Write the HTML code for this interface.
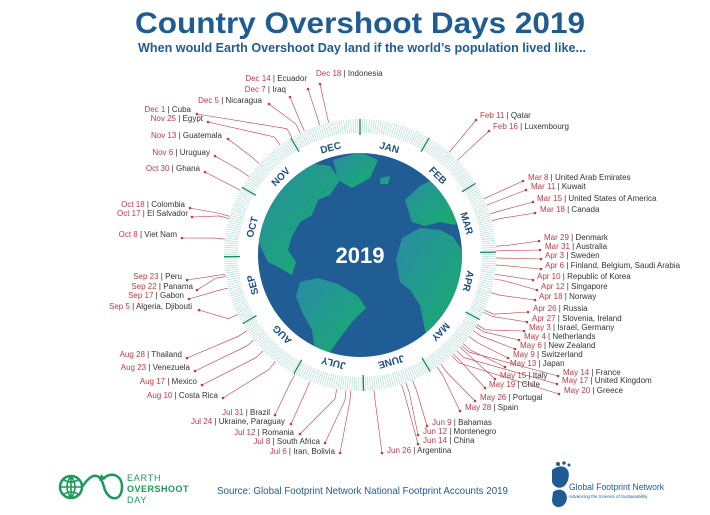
<!DOCTYPE html>
<html><head><meta charset="utf-8">
<style>
html,body{margin:0;padding:0;background:#fff;width:710px;height:515px;overflow:hidden}
svg{display:block}
text{font-family:"Liberation Sans",sans-serif}
</style></head>
<body>
<svg id="s" width="710" height="515" viewBox="0 0 710 515" xmlns="http://www.w3.org/2000/svg">
<defs>
<linearGradient id="land" x1="0" y1="0" x2="1" y2="1">
<stop offset="0" stop-color="#2a8aa6"/><stop offset="1" stop-color="#16b068"/>
</linearGradient>
<clipPath id="gc"><circle cx="360" cy="255" r="102"/></clipPath>
</defs>
<text x="360" y="33" text-anchor="middle" font-size="30" font-weight="bold" fill="#1f5c94" textLength="450" lengthAdjust="spacingAndGlyphs">Country Overshoot Days 2019</text>
<text x="362" y="52" text-anchor="middle" font-size="12.5" font-weight="bold" fill="#1f5c94" textLength="448" lengthAdjust="spacingAndGlyphs">When would Earth Overshoot Day land if the world’s population lived like...</text>
<g id="ring"></g>
<circle cx="360" cy="255" r="102" fill="#205d95"/>
<g clip-path="url(#gc)" fill="url(#land)">
<path d="M250,190 L275,168 L300,162 L330,166 L340,180 L330,195 L318,200 L312,215 L300,222 L292,236 L288,250 L296,262 L292,275 L280,268 L268,262 L262,250 L255,232 L250,215 Z"/>
<path d="M333,160 L360,152 L378,160 L370,178 L352,188 L338,180 Z"/>
<path d="M300,282 L318,278 L338,284 L358,296 L366,308 L352,322 L340,338 L330,352 L322,362 L315,350 L312,330 L302,312 L296,296 Z"/>
<path d="M402,238 L420,228 L440,230 L452,236 L462,250 L462,300 L455,320 L440,345 L430,348 L425,330 L420,305 L410,290 L400,282 L396,260 Z"/>
<path d="M405,200 L420,186 L440,176 L458,180 L462,210 L455,225 L440,222 L425,226 L412,222 Z"/>
<path d="M380,178 L390,176 L388,184 L380,184 Z"/>
</g>
<text x="360" y="263" text-anchor="middle" font-size="22" font-weight="bold" fill="#fff">2019</text>
<g id="lbl"></g>
<g fill="none" stroke="#1a9a5a" stroke-width="2.5">
<circle cx="71" cy="487" r="11"/>
<path d="M60,487 H82 M71,476 V498 M64,480 Q71,484 78,480 M64,494 Q71,490 78,494 M71,476 Q63,487 71,498 M71,476 Q79,487 71,498" stroke-width="1.6"/>
<path d="M82,487 C92,472 100,472 104,487 C108,502 122,502 122,487 C122,474 110,472 104,478"/>
</g>
<path d="M101,474 L106,479 L99,481 Z" fill="#1a9a5a"/>
<text x="127" y="481" font-size="9" fill="#1a9a5a" letter-spacing="0.8">EARTH</text>
<text x="127" y="492" font-size="9" font-weight="bold" fill="#1a9a5a" letter-spacing="0.5">OVERSHOOT</text>
<text x="127" y="503" font-size="9" fill="#1a9a5a" letter-spacing="0.8">DAY</text>
<text x="217" y="494" font-size="10.5" fill="#1f5c94" textLength="291" lengthAdjust="spacingAndGlyphs">Source: Global Footprint Network National Footprint Accounts 2019</text>
<path d="M552,470 C562,462 572,468 568,480 C565,490 555,490 552,482 Z" fill="#1f5c94"/>
<path d="M553,492 C560,486 570,492 566,502 C562,510 552,508 552,500 Z" fill="#1f5c94"/>
<circle cx="558" cy="464" r="2" fill="#1f5c94"/><circle cx="564" cy="463" r="1.8" fill="#1f5c94"/><circle cx="569" cy="465" r="1.5" fill="#1f5c94"/>
<text x="569" y="490" font-size="9" fill="#1f5c94" textLength="95" lengthAdjust="spacingAndGlyphs">Global Footprint Network</text>
<text x="569" y="498" font-size="4.5" fill="#1f5c94">Advancing the Science of Sustainability</text>
</svg>
<script>
var NS="http://www.w3.org/2000/svg",cx=360,cy=255;
function el(p,t,a,txt){var e=document.createElementNS(NS,t);for(var k in a)e.setAttribute(k,a[k]);if(txt!=null)e.textContent=txt;p.appendChild(e);return e;}
var ring=document.getElementById("ring"),lbl=document.getElementById("lbl");
var mdays=[31,28,31,30,31,30,31,31,30,31,30,31],cum=[0];for(var i=0;i<12;i++)cum.push(cum[i]+mdays[i]);
for(var d=0;d<365;d++){var a=d/365*2*Math.PI;var mb=cum.indexOf(d)>=0;
 var r1=mb?120:122,r2=136;
 el(ring,"line",{x1:cx+r1*Math.sin(a),y1:cy-r1*Math.cos(a),x2:cx+r2*Math.sin(a),y2:cy-r2*Math.cos(a),stroke:mb?"#1f8a6a":"#a8d8cf","stroke-width":mb?1.4:0.6});}
var mn=["JAN","FEB","MAR","APR","MAY","JUNE","JULY","AUG","SEP","OCT","NOV","DEC"];
for(var m=0;m<12;m++){var ang=(cum[m]+mdays[m]/2)/365*360;
 el(ring,"text",{x:cx,y:cy-108,"text-anchor":"middle","font-size":"10","font-weight":"bold",fill:"#1f4f86",transform:"rotate("+ang+" "+cx+" "+cy+")"},mn[m]);}
var MI={Jan:0,Feb:1,Mar:2,Apr:3,May:4,Jun:5,Jul:6,Aug:7,Sep:8,Oct:9,Nov:10,Dec:11};
var L=[
["Dec 18","Indonesia","T",316,76,320,84],
["Dec 14","Ecuador","L",307,81,308,89],
["Dec 7","Iraq","L",286,92,290,97],
["Dec 5","Nicaragua","L",262,103,269,104],
["Dec 1","Cuba","L",191,112,197,114],
["Nov 25","Egypt","L",203,121,208,122],
["Nov 13","Guatemala","L",222,138,228,139],
["Nov 6","Uruguay","L",210,155,215,156],
["Oct 30","Ghana","L",200,171,205,172],
["Oct 18","Colombia","L",185,207,190,208],
["Oct 17","El Salvador","L",188,216,192,217],
["Oct 8","Viet Nam","L",177,237,182,238],
["Sep 23","Peru","L",182,279,187,280],
["Sep 22","Panama","L",193,289,197,290],
["Sep 17","Gabon","L",184,298,189,299],
["Sep 5","Algeria, Djibouti","L",192,309,199,310],
["Aug 28","Thailand","L",182,357,187,358],
["Aug 23","Venezuela","L",190,370,195,371],
["Aug 17","Mexico","L",197,384,202,385],
["Aug 10","Costa Rica","L",218,398,223,398],
["Jul 31","Brazil","L",270,415,275,415],
["Jul 24","Ukraine, Paraguay","L",285,424,291,424],
["Jul 12","Romania","L",294,435,300,434],
["Jul 8","South Africa","L",320,444,325,443],
["Jul 6","Iran, Bolivia","L",335,454,340,453],
["Feb 11","Qatar","R",480,118,476,120],
["Feb 16","Luxembourg","R",493,129,489,131],
["Mar 8","United Arab Emirates","R",528,180,523,181],
["Mar 11","Kuwait","R",531,189,526,190],
["Mar 15","United States of America","R",537,201,533,202],
["Mar 18","Canada","R",540,212,535,213],
["Mar 29","Denmark","R",544,240,539,241],
["Mar 31","Australia","R",545,249,540,250],
["Apr 3","Sweden","R",545,258,541,259],
["Apr 6","Finland, Belgium, Saudi Arabia","R",545,268,541,269],
["Apr 10","Republic of Korea","R",537,279,533,280],
["Apr 12","Singapore","R",541,289,537,290],
["Apr 18","Norway","R",539,299,535,300],
["Apr 26","Russia","R",533,311,528,312],
["Apr 27","Slovenia, Ireland","R",532,321,527,322],
["May 3","Israel, Germany","R",529,330,524,331],
["May 4","Netherlands","R",524,339,519,340],
["May 6","New Zealand","R",520,348,515,349],
["May 9","Switzerland","R",513,357,508,358],
["May 13","Japan","R",510,366,505,367],
["May 14","France","R",563,375,558,376],
["May 15","Italy","R",500,378,495,379],
["May 17","United Kingdom","R",562,383,557,384],
["May 19","Chile","R",489,387,485,388],
["May 20","Greece","R",564,393,559,394],
["May 26","Portugal","R",480,400,475,401],
["May 28","Spain","R",465,410,460,411],
["Jun 9","Bahamas","R",432,425,427,426],
["Jun 12","Montenegro","R",423,434,418,435],
["Jun 14","China","R",423,443,418,444],
["Jun 26","Argentina","R",387,453,382,453]];
L.forEach(function(o){var p=o[0].split(" ");var doy=cum[MI[p[0]]]+parseInt(p[1])-0.5;var a=doy/365*2*Math.PI;
 var r=136,r2=146;var x1=cx+r*Math.sin(a),y1=cy-r*Math.cos(a),x2=cx+r2*Math.sin(a),y2=cy-r2*Math.cos(a);
 el(lbl,"polyline",{points:x1+","+y1+" "+x2+","+y2+" "+o[5]+","+o[6],fill:"none",stroke:"#c23a44","stroke-width":"0.6"});
 el(lbl,"circle",{cx:o[5],cy:o[6],r:1.3,fill:"#c23a44"});
 var t=el(lbl,"text",{x:o[3],y:o[4],"font-size":"8","text-anchor":o[2]=="L"?"end":"start"});
 el(t,"tspan",{fill:"#c23a44"},o[0]);el(t,"tspan",{fill:"#333"}," | "+o[1]);});
</script>
</body></html>
